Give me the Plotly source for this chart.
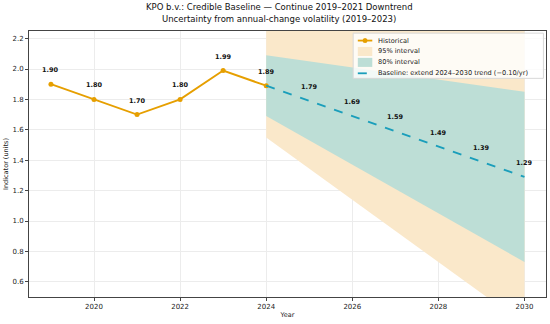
import plotly.graph_objects as go

hist_years = [2019, 2020, 2021, 2022, 2023, 2024]
hist_values = [1.90, 1.80, 1.70, 1.80, 1.99, 1.89]

fc_years = [2024, 2025, 2026, 2027, 2028, 2029, 2030]
baseline = [1.89, 1.79, 1.69, 1.59, 1.49, 1.39, 1.29]
lo80 = [1.69, 1.53, 1.37, 1.21, 1.05, 0.89, 0.73]
hi80 = [2.09, 2.05, 2.01, 1.97, 1.93, 1.89, 1.85]
lo95 = [1.55, 1.345, 1.14, 0.935, 0.73, 0.525, 0.32]
hi95 = [2.27, 2.275, 2.28, 2.285, 2.29, 2.295, 2.30]

x_ticks = [2020, 2022, 2024, 2026, 2028, 2030]
y_ticks = [0.6, 0.8, 1.0, 1.2, 1.4, 1.6, 1.8, 2.0, 2.2]

legend_labels = ["Historical", "95% interval", "80% interval",
                 "Baseline: extend 2024\u20132030 trend (\u22120.10/yr)"]

ORANGE = "#E69F00"
PEACH = "rgba(250,232,202,1)"
TEAL = "rgba(189,222,214,1)"
DASH = "#1A9EBB"
FONT = "DejaVu Sans"

fig = go.Figure()

# 95% band
fig.add_trace(go.Scatter(x=fc_years, y=hi95, mode="lines", line=dict(width=0),
                         showlegend=False, hoverinfo="skip"))
fig.add_trace(go.Scatter(x=fc_years, y=lo95, mode="lines", line=dict(width=0),
                         fill="tonexty", fillcolor=PEACH, name=legend_labels[1],
                         showlegend=False))
# 80% band
fig.add_trace(go.Scatter(x=fc_years, y=hi80, mode="lines", line=dict(width=0),
                         showlegend=False, hoverinfo="skip"))
fig.add_trace(go.Scatter(x=fc_years, y=lo80, mode="lines", line=dict(width=0),
                         fill="tonexty", fillcolor=TEAL, name=legend_labels[2],
                         showlegend=False))
# Historical
fig.add_trace(go.Scatter(x=hist_years, y=hist_values, mode="lines+markers",
                         line=dict(color=ORANGE, width=1.9),
                         marker=dict(color=ORANGE, size=5),
                         name=legend_labels[0], showlegend=False))
# Baseline
fig.add_trace(go.Scatter(x=fc_years, y=baseline, mode="lines",
                         line=dict(color=DASH, width=1.9, dash="dash"),
                         name=legend_labels[3], showlegend=False))

annotations = []
lab_font = dict(family=FONT, size=6.5, color="#111")
for x, y in zip(hist_years, hist_values):
    annotations.append(dict(x=x, y=y, text=f"<b>{y:.2f}</b>", showarrow=False,
                            yshift=14, font=lab_font))
for x, y in zip(fc_years[1:], baseline[1:]):
    annotations.append(dict(x=x, y=y, text=f"<b>{y:.2f}</b>", showarrow=False,
                            yshift=14, font=lab_font))

# Title lines
title_font = dict(family=FONT, size=8.5, color="#111")
annotations.append(dict(xref="paper", yref="paper", x=0.4845, y=1.090, showarrow=False,
                        xanchor="center", yanchor="middle", font=title_font,
                        text="KPO b.v.: Credible Baseline \u2014 Continue 2019\u20132021 Downtrend"))
annotations.append(dict(xref="paper", yref="paper", x=0.4845, y=1.045, showarrow=False,
                        xanchor="center", yanchor="middle", font=title_font,
                        text="Uncertainty from annual-change volatility (2019\u20132023)"))

# Custom legend (matplotlib-like compact)
shapes = []
lx0, lx1, ly0, ly1 = 0.627, 0.995, 0.822, 0.992
shapes.append(dict(type="rect", xref="paper", yref="paper", x0=lx0, x1=lx1, y0=ly0, y1=ly1,
                   fillcolor="rgba(255,255,255,0.8)", line=dict(color="#d8d8d8", width=1),
                   layer="above"))
rows = [0.964, 0.923, 0.882, 0.841]
sx0, sx1 = 0.636, 0.664
shapes.append(dict(type="line", xref="paper", yref="paper", x0=sx0, x1=sx1, y0=rows[0], y1=rows[0],
                   line=dict(color=ORANGE, width=1.8), layer="above"))
shapes.append(dict(type="circle", xref="paper", yref="paper",
                   x0=(sx0 + sx1) / 2 - 0.0048, x1=(sx0 + sx1) / 2 + 0.0048,
                   y0=rows[0] - 0.0094, y1=rows[0] + 0.0094,
                   fillcolor=ORANGE, line=dict(color=ORANGE, width=0), layer="above"))
shapes.append(dict(type="rect", xref="paper", yref="paper", x0=sx0, x1=sx1,
                   y0=rows[1] - 0.017, y1=rows[1] + 0.017,
                   fillcolor=PEACH, line=dict(width=0), layer="above"))
shapes.append(dict(type="rect", xref="paper", yref="paper", x0=sx0, x1=sx1,
                   y0=rows[2] - 0.017, y1=rows[2] + 0.017,
                   fillcolor=TEAL, line=dict(width=0), layer="above"))
shapes.append(dict(type="line", xref="paper", yref="paper", x0=sx0, x1=sx1, y0=rows[3], y1=rows[3],
                   line=dict(color=DASH, width=1.8, dash="dash"), layer="above"))

leg_font = dict(family=FONT, size=6.6, color="#222")
for r, lab in zip(rows, legend_labels):
    annotations.append(dict(xref="paper", yref="paper", x=0.672, y=r, text=lab,
                            showarrow=False, xanchor="left", yanchor="middle", font=leg_font))

fig.update_layout(
    width=550, height=324,
    margin=dict(l=29, r=4, t=31, b=27),
    paper_bgcolor="white", plot_bgcolor="white",
    font=dict(family=FONT, size=7, color="#222"),
    annotations=annotations,
    shapes=shapes,
    showlegend=False,
    hovermode=False,
)
fig.update_xaxes(range=[2018.49, 2030.5], tickvals=x_ticks, ticktext=[str(v) for v in x_ticks],
                 showgrid=True, gridcolor="#ececec", gridwidth=0.6,
                 showline=True, linecolor="#444", linewidth=1, mirror=True,
                 ticks="outside", ticklen=3, tickcolor="#444", zeroline=False,
                 tickfont=dict(size=7, color="#222"), automargin=False,
                 title=dict(text="Year", font=dict(size=6.5, color="#222"), standoff=2))
fig.update_yaxes(range=[0.5, 2.25], tickvals=y_ticks, ticktext=[f"{v:.1f}" for v in y_ticks],
                 showgrid=True, gridcolor="#ececec", gridwidth=0.6,
                 showline=True, linecolor="#444", linewidth=1, mirror=True,
                 ticks="outside", ticklen=3, tickcolor="#444", zeroline=False,
                 tickfont=dict(size=7, color="#222"), automargin=False,
                 title=dict(text="Indicator (units)", font=dict(size=6.5, color="#222"), standoff=3))

fig.write_html("out.html", config={"displayModeBar": False},
               post_script="document.body.style.margin='0';")
